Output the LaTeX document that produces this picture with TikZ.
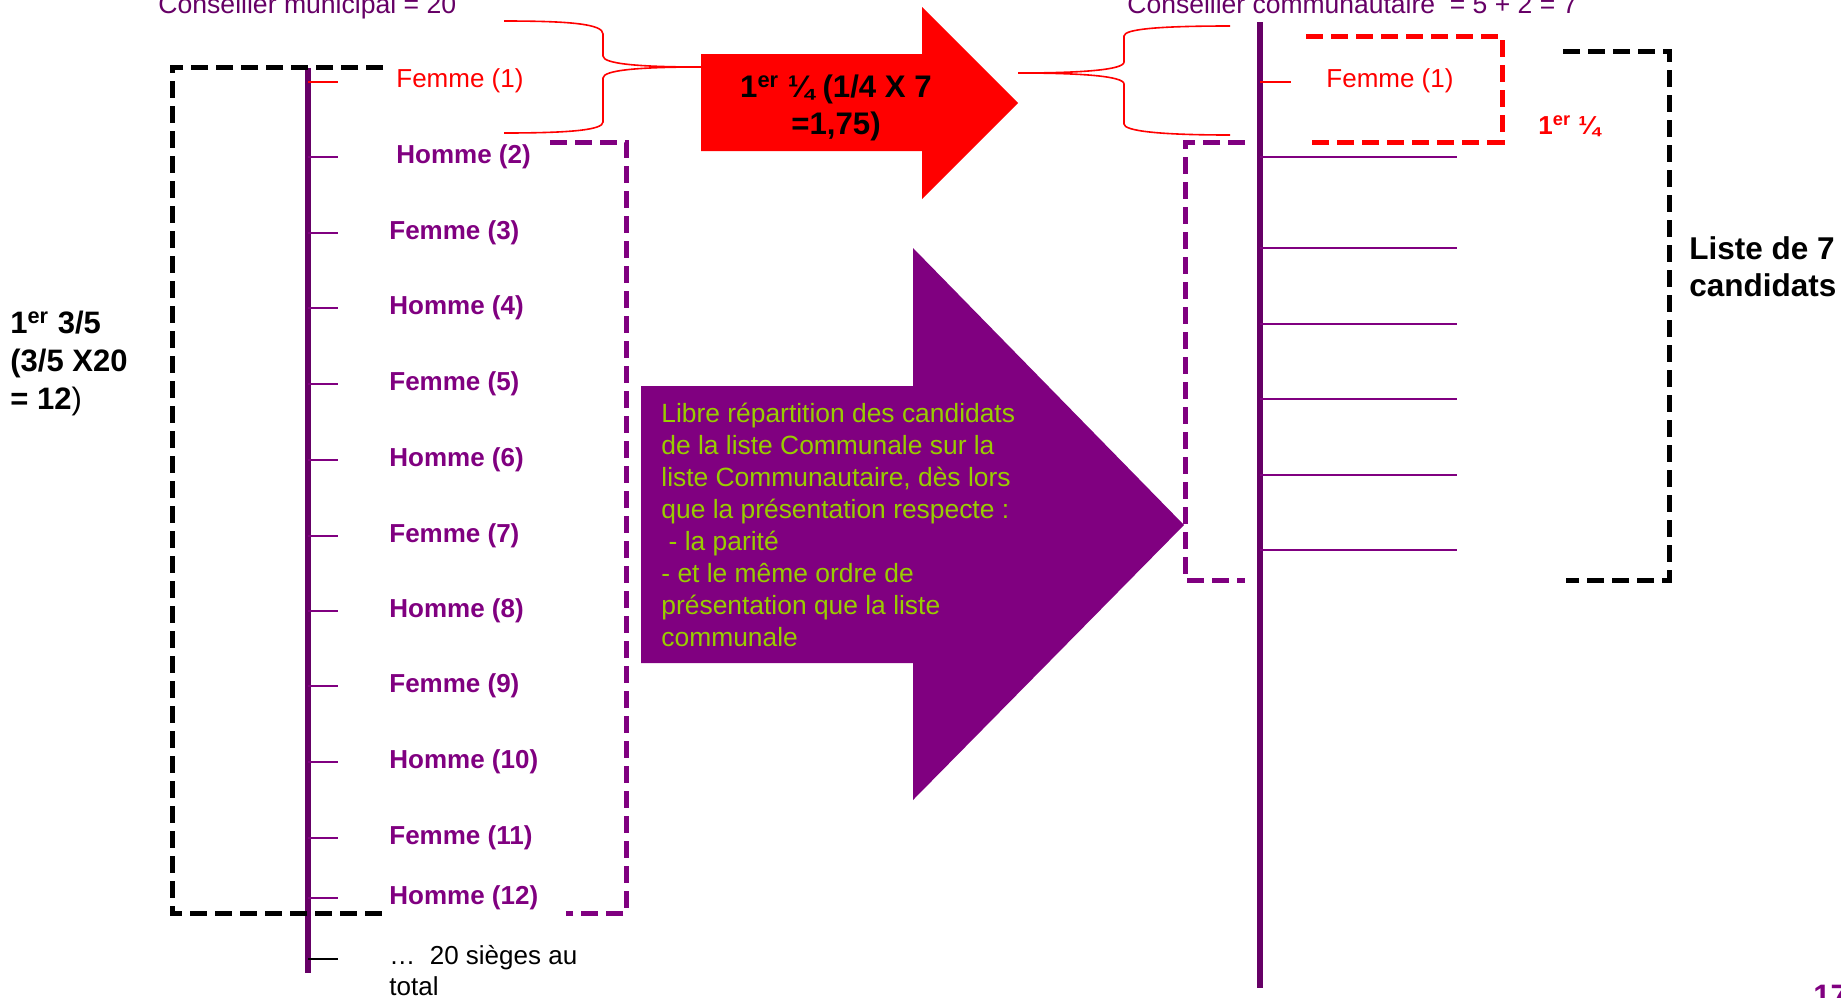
\documentclass[tikz,border=0pt]{standalone}
\usepackage{fontspec}
\setmainfont{Liberation Sans}
\definecolor{pur}{RGB}{128,0,128}
\definecolor{dpur}{RGB}{102,0,102}
\definecolor{lime}{RGB}{153,204,0}
\begin{document}
\begin{tikzpicture}[x=0.5pt,y=-0.5pt,
  item/.style={anchor=base west, inner sep=0pt, text=pur, font=\fontsize{13}{15.6}\selectfont\bfseries},
  plain/.style={anchor=base west, inner sep=0pt, font=\fontsize{13}{15.6}\selectfont},
  dashbox/.style={line width=2.5pt, dash pattern=on 8.5pt off 4pt, line join=miter},
  tick/.style={line width=1pt, pur},
  rtick/.style={line width=0.9pt, pur},
  brace/.style={red, line width=0.8pt},
  axis/.style={dpur, line width=3pt}]
\useasboundingbox (0,0) rectangle (1841,997);

% titles
\node[plain, text=dpur, font=\fontsize{13.3}{16}\selectfont] (titleL) at (158,13) {Conseiller municipal = 20};
\node[plain, text=dpur, font=\fontsize{13.25}{16}\selectfont] (titleR) at (1127,13) {Conseiller communautaire\ \ = 5 + 2 = 7};

% left axis
\coordinate (LA) at (308,68);
\coordinate (LB) at (308,973);
\draw[axis] (LA) -- (LB);
\foreach \y [count=\i] in {82,157,233,308,384,460,536,611,686,762,838,898}{
  \coordinate (lt\i) at (308,\y);
  \coordinate (le\i) at (338,\y);
}
\draw[red, line width=1pt] (lt1) -- (le1);
\foreach \i in {2,...,12}{ \draw[tick] (lt\i) -- (le\i); }
\coordinate (lt13) at (308,959);
\coordinate (le13) at (338,959);
\draw[black, line width=1pt] (lt13) -- (le13);

% left labels
\node[plain, text=red] (f1) at (396,87) {Femme (1)};
\node[item] (h2) at (396,163) {Homme (2)};
\node[item] (f3) at (389,239) {Femme (3)};
\node[item] (h4) at (389,314) {Homme (4)};
\node[item] (f5) at (389,390) {Femme (5)};
\node[item] (h6) at (389,466) {Homme (6)};
\node[item] (f7) at (389,542) {Femme (7)};
\node[item] (h8) at (389,617) {Homme (8)};
\node[item] (f9) at (389,692) {Femme (9)};
\node[item] (h10) at (389,768) {Homme (10)};
\node[item] (f11) at (389,844) {Femme (11)};
\node[item] (h12) at (389,904) {Homme (12)};
\node[anchor=north west, inner sep=0pt, align=left, font=\fontsize{13}{15.5}\selectfont] (tot) at (389,945) {…\ \ 20 sièges au\\total};

% left brackets
\draw[dashbox, black] (383,67) -- (172,67) -- (172,913) -- (383,913);
\draw[dashbox, pur] (550,142) -- (626,142) -- (626,913) -- (566,913);

% left label
\node[anchor=north west, inner sep=0pt, align=left, font=\fontsize{15.5}{19}\selectfont\bfseries] (tl) at (10,311)
  {1\textsuperscript{er} 3/5\\(3/5 X20\\= 12{\mdseries)}};

% red arrow
\fill[red] (701,54) -- (922,54) -- (922,7) -- (1018,103) -- (922,199) -- (922,151) -- (701,151) -- cycle;
\node[align=center, inner sep=0pt, font=\fontsize{15.6}{18.5}\selectfont\bfseries] (ra) at (836,108)
  {1\textsuperscript{er} ¼ (1/4 X 7\\=1,75)};

% braces
\draw[brace] (504,21) .. controls (570,21) and (603,24) .. (603,34) -- (603,56)
  .. controls (603,64) and (640,67) .. (701,67)
  .. controls (640,67) and (603,70) .. (603,78) -- (603,122)
  .. controls (603,130) and (570,133) .. (504,133);
\draw[brace] (1230,26) .. controls (1160,26) and (1124,29) .. (1124,36) -- (1124,62)
  .. controls (1124,70) and (1080,73) .. (1018,73)
  .. controls (1080,73) and (1124,76) .. (1124,84) -- (1124,124)
  .. controls (1124,131) and (1160,135) .. (1230,135);

% purple arrow
\fill[pur] (641,386) -- (913,386) -- (913,248) -- (1184,525) -- (913,800) -- (913,663) -- (641,663) -- cycle;
\node[anchor=north west, inner sep=0pt, align=left, text=lime, font=\fontsize{13.2}{16}\selectfont] (pa) at (661,403)
  {Libre répartition des candidats\\de la liste Communale sur la\\liste Communautaire, dès lors\\que la présentation respecte :\\\ - la parité\\- et le même ordre de\\présentation que la liste\\communale};

% right axis
\coordinate (RA) at (1260,22);
\coordinate (RB) at (1260,988);
\draw[axis] (RA) -- (RB);
\coordinate (rt0) at (1260,82);
\coordinate (re0) at (1291,82);
\draw[red, line width=1pt] (rt0) -- (re0);
\foreach \y [count=\i] in {157,248,324,399,475,550}{
  \coordinate (rt\i) at (1260,\y);
  \coordinate (re\i) at (1457,\y);
  \draw[rtick] (rt\i) -- (re\i);
}

% right brackets
\draw[dashbox, pur] (1245,142) -- (1185,142) -- (1185,580) -- (1245,580);
\draw[dashbox, red] (1306,36) -- (1502,36) -- (1502,142) -- (1306,142);
\draw[dashbox, black] (1563,51) -- (1669,51) -- (1669,580) -- (1566,580);

% right labels
\node[plain, text=red] (rf1) at (1326,87) {Femme (1)};
\node[anchor=base west, inner sep=0pt, text=red, font=\fontsize{13}{15.6}\selectfont\bfseries] (rq) at (1538,134) {1\textsuperscript{er} ¼};
\node[anchor=north west, inner sep=0pt, align=left, font=\fontsize{15.75}{18.5}\selectfont\bfseries] (liste) at (1689,236)
  {Liste de 7\\candidats};

% page number
\node[anchor=base west, inner sep=0pt, text=pur, font=\fontsize{15.5}{18}\selectfont\bfseries] (pg) at (1813,1006) {17};
\end{tikzpicture}
\end{document}
